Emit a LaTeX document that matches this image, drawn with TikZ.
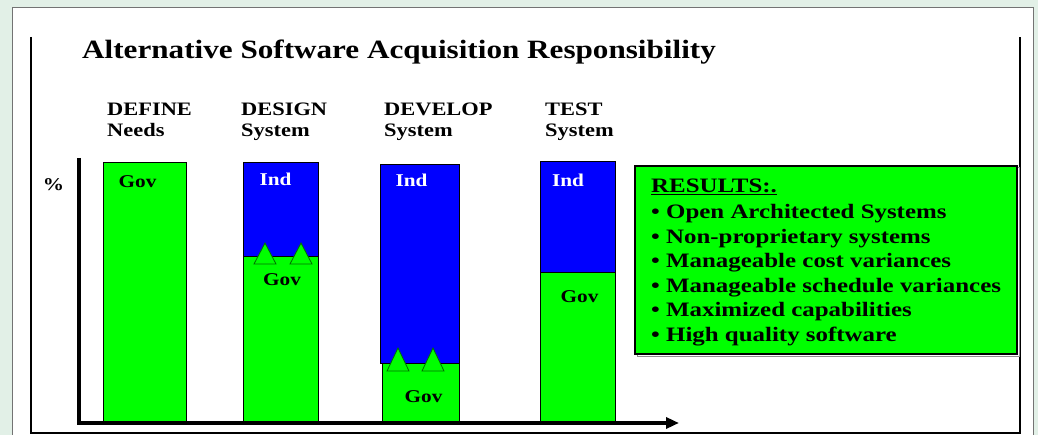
\documentclass[tikz,border=0pt]{standalone}
\usepackage{fontspec}
\setmainfont{Liberation Serif}
\usetikzlibrary{arrows.meta}
\definecolor{bgc}{RGB}{226,240,231}
\definecolor{gr}{RGB}{0,255,0}
\definecolor{bl}{RGB}{0,0,255}
\definecolor{trid}{RGB}{0,110,0}
\newcommand{\stretchtxt}[1]{\scalebox{1.18}[1]{#1}}
\newcommand{\stretchres}[1]{\scalebox{1.215}[1]{#1}}
\tikzset{
  barg/.style={fill=gr, draw=black, line width=0.8pt},
  barb/.style={fill=bl, draw=black, line width=0.8pt},
  tri/.style={fill=gr, draw=trid, line width=0.8pt},
  hdr/.style={anchor=base west, inner sep=0pt, font=\fontsize{19}{19}\selectfont\bfseries},
  lblk/.style={anchor=base, inner sep=0pt, font=\fontsize{18}{18}\selectfont\bfseries},
  lblw/.style={lblk, text=white},
  res/.style={anchor=base west, inner sep=0pt, font=\fontsize{20.5}{20.5}\selectfont\bfseries},
  axis/.style={line width=3.5pt},
}
\begin{document}
\begin{tikzpicture}[x=1pt,y=-1pt]
\useasboundingbox (0,0) rectangle (1038,435);
\clip (0,0) rectangle (1038,435);
\fill[bgc] (0,0) rectangle (1038,435);
\draw[fill=white, draw=black!55, line width=1pt] (12,8) rectangle (1033,450);
\draw[line width=2pt] (31,37) -- (31,433) -- (1020,433) -- (1020,37);

% title
\node[anchor=base west, inner sep=0pt, font=\fontsize{26.4}{26.4}\selectfont\bfseries] (title) at (82,59) {\stretchtxt{Alternative Software Acquisition Responsibility}};

% headers
\node[hdr] (h1a) at (107,116) {\stretchtxt{DEFINE}};
\node[hdr] (h1b) at (107,137) {\stretchtxt{Needs}};
\node[hdr] (h2a) at (241,116) {\stretchtxt{DESIGN}};
\node[hdr] (h2b) at (241,137) {\stretchtxt{System}};
\node[hdr] (h3a) at (384,116) {\stretchtxt{DEVELOP}};
\node[hdr] (h3b) at (384,137) {\stretchtxt{System}};
\node[hdr] (h4a) at (545,116) {\stretchtxt{TEST}};
\node[hdr] (h4b) at (545,137) {\stretchtxt{System}};

% bars
\draw[barg] (103,162) rectangle (186,422);
\draw[barb] (243,162) rectangle (318,256);
\draw[barg] (243,256) rectangle (318,422);
\draw[barb] (380,164) rectangle (459,363);
\draw[barg] (382,363) rectangle (459,422);
\draw[barb] (540,161) rectangle (615,272);
\draw[barg] (540,272) rectangle (615,422);

% triangles
\draw[tri] (254,264) -- (265,243) -- (276,264) -- cycle;
\draw[tri] (290,264) -- (301,243) -- (312,264) -- cycle;
\draw[tri] (387,371) -- (398,348) -- (409,371) -- cycle;
\draw[tri] (422,371) -- (433,348) -- (444,371) -- cycle;

% bar labels
\node[lblk] (g1) at (137.5,188) {\stretchtxt{Gov}};
\node[lblw] (i2) at (275.5,186) {\stretchtxt{Ind}};
\node[lblk] (g2) at (282,286) {\stretchtxt{Gov}};
\node[lblw] (i3) at (411.5,187) {\stretchtxt{Ind}};
\node[lblk] (g3) at (423.5,402) {\stretchtxt{Gov}};
\node[lblw] (i4) at (568,187) {\stretchtxt{Ind}};
\node[lblk] (g4) at (579.5,303) {\stretchtxt{Gov}};
\node[lblk] (pct) at (53.5,191) {\stretchtxt{\%}};

% axes
\coordinate (ytop) at (79,158);
\coordinate (orig) at (79,423);
\coordinate (xend) at (679,423);
\draw[axis] (ytop) -- (orig);
\draw[axis, -{Triangle[length=13pt,width=11pt]}] ([xshift=-1.75pt]orig) -- (xend);

% results box
\draw[black!45, line width=1pt] (637,168) rectangle (1019,356);
\draw[fill=gr, draw=black, line width=2.5pt] (635,166) rectangle (1017,354);
\node[res] (r0) at (651,192.3) {\stretchres{\underline{RESULTS:.}}};
\node[res] (r1) at (651,218.7) {\stretchres{• Open Architected Systems}};
\node[res] (r2) at (651,243.2) {\stretchres{• Non-proprietary systems}};
\node[res] (r3) at (651,267.7) {\stretchres{• Manageable cost variances}};
\node[res] (r4) at (651,292.2) {\stretchres{• Manageable schedule variances}};
\node[res] (r5) at (651,316.7) {\stretchres{• Maximized capabilities}};
\node[res] (r6) at (651,341.2) {\stretchres{• High quality software}};
\end{tikzpicture}
\end{document}
